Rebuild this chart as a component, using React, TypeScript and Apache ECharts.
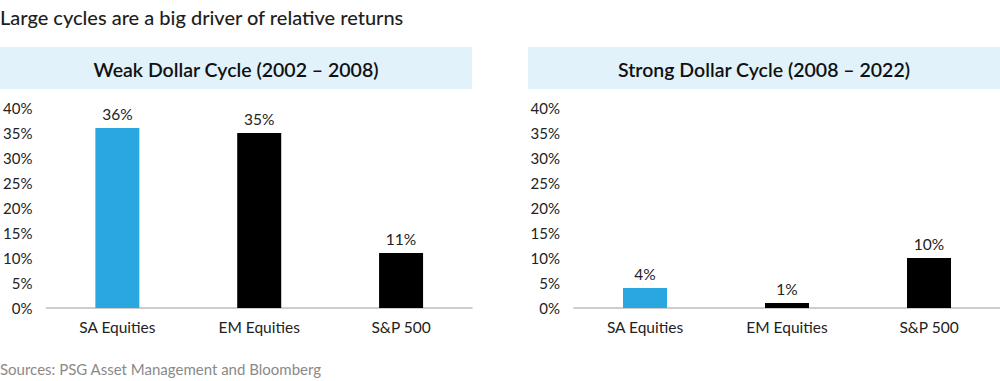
import React, { useEffect, useRef } from "react";
import * as echarts from "echarts";

const categories = ["SA Equities", "EM Equities", "S&P 500"];
const weakDollarValues = [36, 35, 11];
const strongDollarValues = [4, 1, 10];
const yTicks = [0, 5, 10, 15, 20, 25, 30, 35, 40];
const chartTitle = "Large cycles are a big driver of relative returns";
const panelTitles = ["Weak Dollar Cycle (2002 \u2013 2008)", "Strong Dollar Cycle (2008 \u2013 2022)"];
const sourceText = "Sources: PSG Asset Management and Bloomberg";

const BLUE = "#2aa7df";
const BLACK = "#000000";
const FONT = "Lato, 'Open Sans', sans-serif";

export default function App() {
  const ref = useRef<HTMLDivElement>(null);
  useEffect(() => {
    if (!ref.current) return;
    const chart = echarts.init(ref.current, null, { renderer: "svg" });
    const barColor = (i: number) => (i === 0 ? BLUE : BLACK);
    const mkData = (vals: number[]) =>
      vals.map((v, i) => ({ value: v, itemStyle: { color: barColor(i) } }));
    const grids = [
      { left: 46, top: 108, width: 426, height: 200 },
      { left: 574, top: 108, width: 426, height: 200 },
    ];
    const xAxis = grids.map((_, gi) => ({
      type: "category",
      gridIndex: gi,
      data: categories,
      axisLine: { show: true, lineStyle: { color: "#bdbdbd", width: 1.5 } },
      axisTick: { show: false },
      axisLabel: { color: "#222", fontSize: 15.5, fontFamily: FONT, margin: 11 },
    }));
    const yAxis = grids.map((_, gi) => ({
      type: "value",
      gridIndex: gi,
      min: yTicks[0],
      max: yTicks[yTicks.length - 1],
      interval: 5,
      axisLine: { show: false },
      axisTick: { show: false },
      splitLine: { show: false },
      axisLabel: {
        color: "#222",
        fontSize: 15,
        fontFamily: FONT,
        margin: 14,
        formatter: (v: number) => `${v}%`,
      },
    }));
    const series = [weakDollarValues, strongDollarValues].map((vals, gi) => ({
      type: "bar",
      xAxisIndex: gi,
      yAxisIndex: gi,
      data: mkData(vals),
      barWidth: 44,
      label: {
        show: true,
        position: "top",
        distance: 6,
        color: "#222",
        fontSize: 15.5,
        fontFamily: FONT,
        formatter: (p: any) => `${p.value}%`,
      },
    }));
    chart.setOption({
      animation: false,
      backgroundColor: "#ffffff",
      grid: grids,
      xAxis,
      yAxis,
      series,
      graphic: [
        {
          type: "text",
          left: 0,
          top: 7,
          style: { text: chartTitle, fontSize: 20, fontWeight: 500, fill: "#1e1e1e", fontFamily: FONT },
        },
        { type: "rect", shape: { x: 0, y: 47, width: 472, height: 42 }, style: { fill: "#e1f2fb" } },
        { type: "rect", shape: { x: 528, y: 47, width: 472, height: 42 }, style: { fill: "#e1f2fb" } },
        {
          type: "text",
          x: 236,
          y: 69,
          style: {
            text: panelTitles[0],
            fontSize: 19.5,
            fontWeight: 600,
            fill: "#111",
            fontFamily: FONT,
            align: "center",
            verticalAlign: "middle",
          },
        },
        {
          type: "text",
          x: 764,
          y: 69,
          style: {
            text: panelTitles[1],
            fontSize: 19.5,
            fontWeight: 600,
            fill: "#111",
            fontFamily: FONT,
            align: "center",
            verticalAlign: "middle",
          },
        },
        {
          type: "text",
          left: 0,
          top: 361,
          style: { text: sourceText, fontSize: 15, fill: "#8a8a8a", fontFamily: FONT },
        },
      ],
    });
    return () => chart.dispose();
  }, []);
  return (
    <div
      ref={ref}
      style={{ position: "fixed", left: 0, top: 0, width: 1000, height: 381, background: "#fff" }}
    />
  );
}
